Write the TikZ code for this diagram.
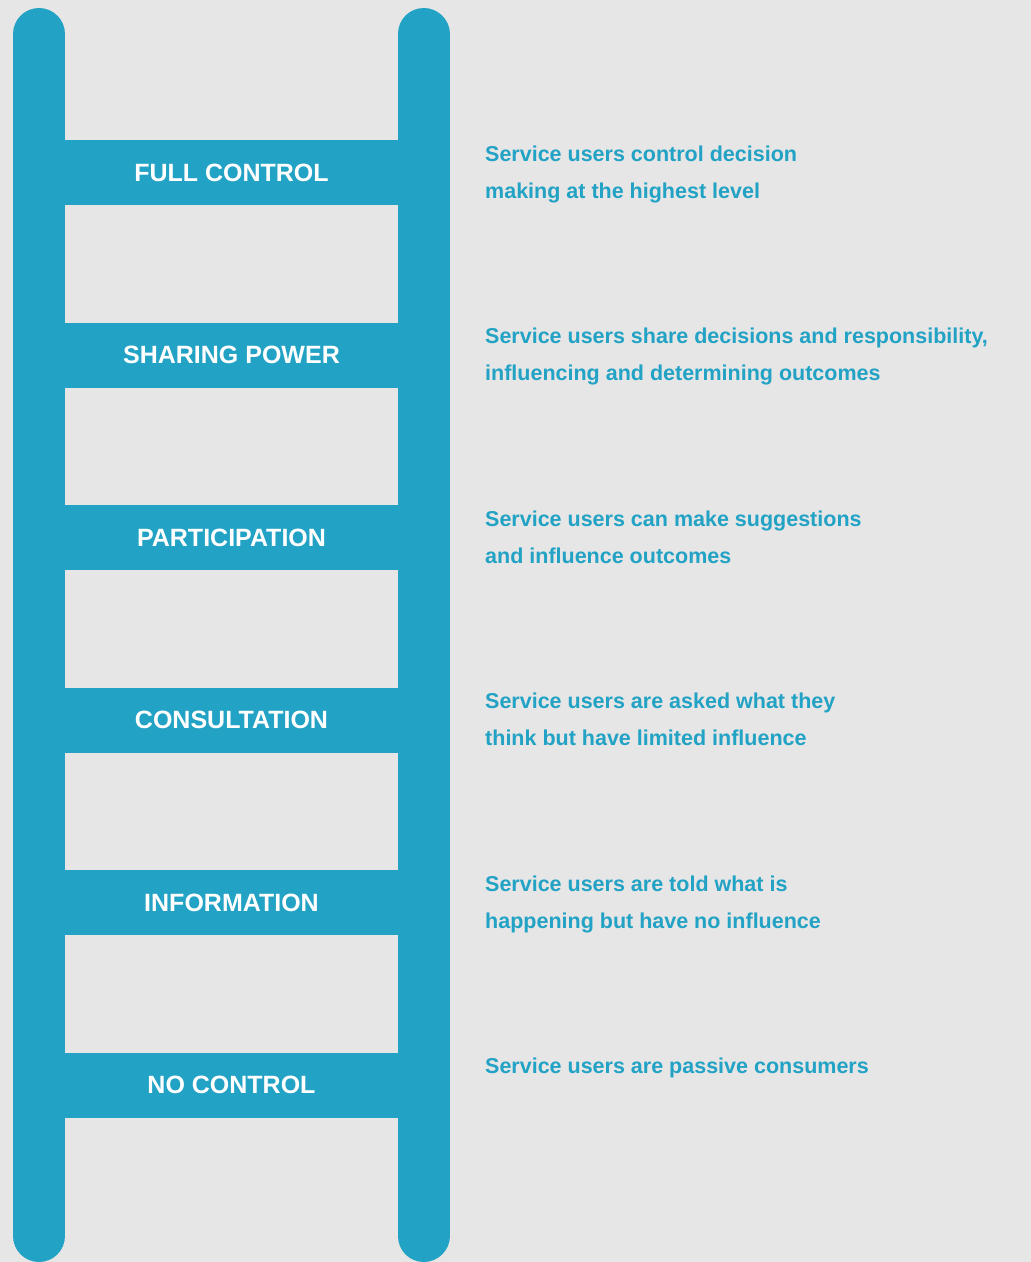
\documentclass[tikz,border=0pt]{standalone}
\usepackage{fontspec}
\setmainfont{Liberation Sans}
\usetikzlibrary{positioning}
\definecolor{ladderblue}{HTML}{22A2C4}
\definecolor{paper}{HTML}{E6E6E6}

\begin{document}
\begin{tikzpicture}[x=1pt,y=-1pt,
      rail/.style={line width=52pt,line cap=round,draw=ladderblue},
      rung/.style={fill=ladderblue,minimum width=343pt,minimum height=65pt,inner sep=0pt,
        text=white,font=\fontsize{25}{30}\selectfont\bfseries},
      note/.style={anchor=north west,inner sep=0pt,align=left,text=ladderblue,
        font=\fontsize{21.5}{37}\selectfont\bfseries}]

      \fill[paper] (0,0) rectangle (1031,1262);

      \coordinate (LT) at (39,34);
      \coordinate (LB) at (39,1236);
      \coordinate (RT) at (423.5,34);
      \coordinate (RB) at (423.5,1236);
      \draw[rail] (LT) -- (LB);
      \draw[rail] (RT) -- (RB);

      \foreach \y/\name/\lab/\txt in {
          172.5/full/FULL CONTROL/{Service users control decision\\making at the highest level},
          355/share/SHARING POWER/{Service users share decisions and responsibility,\\influencing and determining outcomes},
          537.5/part/PARTICIPATION/{Service users can make suggestions\\and influence outcomes},
          720/cons/CONSULTATION/{Service users are asked what they\\think but have limited influence},
          902.5/info/INFORMATION/{Service users are told what is\\happening but have no influence},
          1085/none/NO CONTROL/{Service users are passive consumers}} {
        \node[rung] (rung-\name) at (231.5,\y) {\lab};
        \node[note] (note-\name) at (485,\y-27) {\txt};
      }
    \end{tikzpicture}
\end{document}
